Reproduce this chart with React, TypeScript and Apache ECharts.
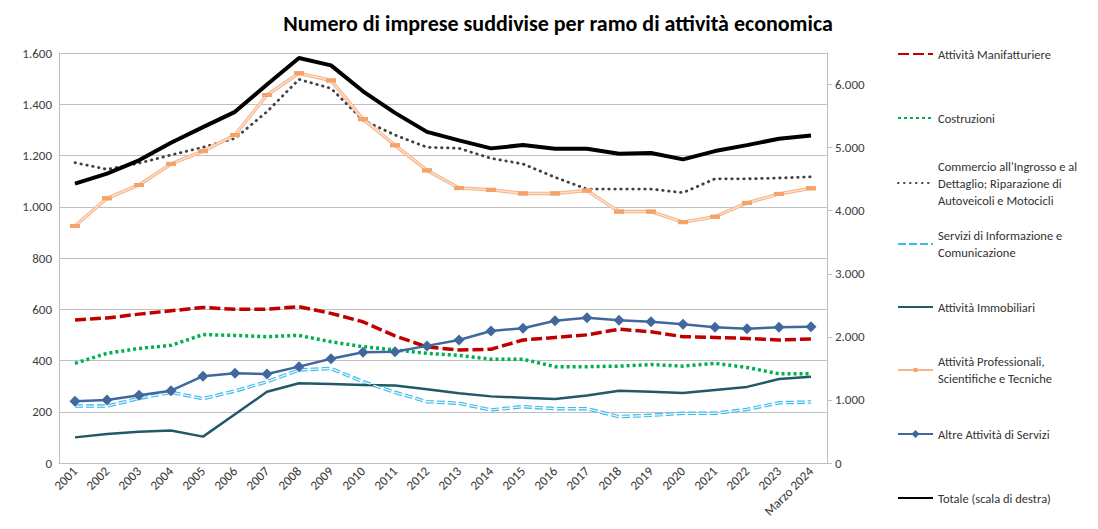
import React, { useEffect, useRef } from "react";
import * as echarts from "echarts";

const categories = ["2001","2002","2003","2004","2005","2006","2007","2008","2009","2010","2011","2012","2013","2014","2015","2016","2017","2018","2019","2020","2021","2022","2023","Marzo 2024"];

const manifatturiere = [558,566,581,594,607,600,600,610,584,551,496,453,441,444,480,490,500,522,512,493,490,486,480,484];
const costruzioni = [389,428,447,459,501,498,493,498,473,454,441,428,420,405,405,376,376,378,384,378,389,373,348,348];
const commercio = [1172,1146,1170,1202,1232,1267,1371,1497,1462,1338,1280,1232,1228,1189,1167,1115,1069,1069,1069,1055,1109,1109,1112,1117];
const informazione = [222,222,252,276,251,281,317,363,369,317,276,239,233,207,220,212,212,181,186,194,194,209,235,238];
const immobiliari = [100,113,122,127,103,190,278,311,308,304,302,288,272,260,255,250,263,282,278,273,285,297,328,337];
const professionali = [925,1033,1085,1167,1217,1280,1436,1521,1493,1342,1240,1142,1073,1066,1052,1052,1063,981,981,940,961,1015,1050,1072];
const altreServizi = [241,246,264,282,339,350,347,376,407,432,434,457,480,515,526,555,567,557,551,541,530,524,530,532];
const totale = [4429,4587,4798,5077,5325,5567,6000,6420,6304,5893,5551,5250,5114,4988,5040,4982,4982,4903,4914,4814,4945,5040,5140,5193];

const names = [
  "Attività Manifatturiere",
  "Costruzioni",
  "Commercio all'Ingrosso e al\nDettaglio; Riparazione di\nAutoveicoli e Motocicli",
  "Servizi di Informazione e\nComunicazione",
  "Attività Immobiliari",
  "Attività Professionali,\nScientifiche e Tecniche",
  "Altre Attività di Servizi",
  "Totale (scala di destra)",
];

const FONT = "Carlito, Lato, 'Liberation Sans', sans-serif";
const fmt = (v: number) => String(v).replace(/\B(?=(\d{3})+(?!\d))/g, ".");

export default function App() {
  const ref = useRef<HTMLDivElement>(null);
  useEffect(() => {
    if (!ref.current) return;
    const chart = echarts.init(ref.current, null, { renderer: "svg" });
    const iconY = [54, 118, 183, 244, 307, 370, 434, 498];
    const LH = 17;
    const noSym = [true, true, true, true, true, false, false, true];
    const iconH = [14, 14, 14, 14, 14, 5, 10, 14];
    const legends = names.map((n, i) => {
      const lines = n.split("\n").length;
      const pad = (lines - 1) * LH;
      const h = Math.max(iconH[i], pad + lines * LH);
      const lg: any = {
        data: [n],
        orient: "vertical",
        left: 897,
        top: iconY[i] - h / 2,
        padding: 0,
        itemWidth: 35,
        itemHeight: iconH[i],
        selectedMode: false,
        textStyle: {
          fontFamily: FONT,
          fontSize: 12.5,
          color: "#333333",
          lineHeight: LH,
          padding: [pad, 0, 0, 0],
        },
      };
      if (noSym[i]) lg.itemStyle = { opacity: 0 };
      return lg;
    });
    const option: any = {
      animation: false,
      backgroundColor: "#ffffff",
      title: {
        text: "Numero di imprese suddivise per ramo di attività economica",
        left: 553,
        textAlign: "center",
        top: 7,
        textStyle: { fontFamily: FONT, fontSize: 22, fontWeight: "bold", color: "#000" },
      },
      legend: legends,
      grid: { left: 59, right: 271, top: 53, bottom: 66, containLabel: false },
      xAxis: {
        type: "category",
        data: categories,
        boundaryGap: true,
        axisLine: { lineStyle: { color: "#BFBFBF" } },
        axisTick: { show: false },
        axisLabel: { rotate: 45, interval: 0, fontFamily: FONT, fontSize: 13, color: "#333333", margin: 6 },
      },
      yAxis: [
        {
          type: "value",
          min: 0,
          max: 1600,
          interval: 200,
          axisLine: { show: true, lineStyle: { color: "#BFBFBF" } },
          axisTick: { show: false },
          splitLine: { lineStyle: { color: "#BFBFBF" } },
          axisLabel: { formatter: fmt, fontFamily: FONT, fontSize: 13, color: "#404040", margin: 7 },
        },
        {
          type: "value",
          min: 0,
          max: 6500,
          interval: 1000,
          position: "right",
          axisLine: { show: true, lineStyle: { color: "#BFBFBF" } },
          axisTick: { show: true, length: 5, lineStyle: { color: "#BFBFBF" } },
          splitLine: { show: false },
          axisLabel: { formatter: fmt, showMaxLabel: false, fontFamily: FONT, fontSize: 13, color: "#404040", margin: 8 },
        },
      ],
      series: [
        {
          name: names[0], type: "line", data: manifatturiere, symbol: "none", z: 2,
          lineStyle: { color: "#C00000", width: 3.5, type: [11, 4] }, itemStyle: { color: "#C00000" },
        },
        {
          name: names[1], type: "line", data: costruzioni, symbol: "none", z: 2,
          lineStyle: { color: "#00B050", width: 3.5, type: [3, 3] }, itemStyle: { color: "#00B050" },
        },
        {
          name: names[2], type: "line", data: commercio, symbol: "none", z: 2,
          lineStyle: { color: "#404040", width: 2.8, type: [0.5, 5.5], cap: "round" }, itemStyle: { color: "#404040" },
        },
        {
          name: names[3], type: "line", data: informazione, symbol: "none", z: 2,
          lineStyle: { color: "#3DB8F0", width: 3.5, type: [8, 3] }, itemStyle: { color: "#3DB8F0" },
        },
        {
          name: "info-inner", type: "line", data: informazione, symbol: "none", silent: true, z: 3,
          lineStyle: { color: "#E6F6FD", width: 1.3, type: [8, 3] },
        },
        {
          name: names[4], type: "line", data: immobiliari, symbol: "none", z: 2,
          lineStyle: { color: "#215968", width: 2.5 }, itemStyle: { color: "#215968" },
        },
        {
          name: names[5], type: "line", data: professionali, symbol: "rect", symbolSize: [10, 4], z: 2,
          lineStyle: { color: "#F7B58A", width: 3.5 }, itemStyle: { color: "#F4A36B" },
        },
        {
          name: "prof-inner", type: "line", data: professionali, symbol: "none", silent: true, z: 3,
          lineStyle: { color: "#FCE2D0", width: 1.3 },
        },
        {
          name: "prof-marks", type: "line", data: professionali, symbol: "rect", symbolSize: [10, 4], silent: true, z: 4,
          lineStyle: { width: 0, opacity: 0 }, itemStyle: { color: "#F4A36B" },
        },
        {
          name: names[6], type: "line", data: altreServizi, symbol: "diamond", symbolSize: 11, z: 4,
          lineStyle: { color: "#41689C", width: 2.5 }, itemStyle: { color: "#41689C" },
        },
        {
          name: names[7], type: "line", data: totale, yAxisIndex: 1, symbol: "none", z: 5,
          lineStyle: { color: "#000000", width: 4 }, itemStyle: { color: "#000000" },
        },
      ],
    };
    chart.setOption(option);
    return () => chart.dispose();
  }, []);
  return <div ref={ref} style={{ width: 1098, height: 529, position: "absolute", left: 0, top: 0 }} />;
}
